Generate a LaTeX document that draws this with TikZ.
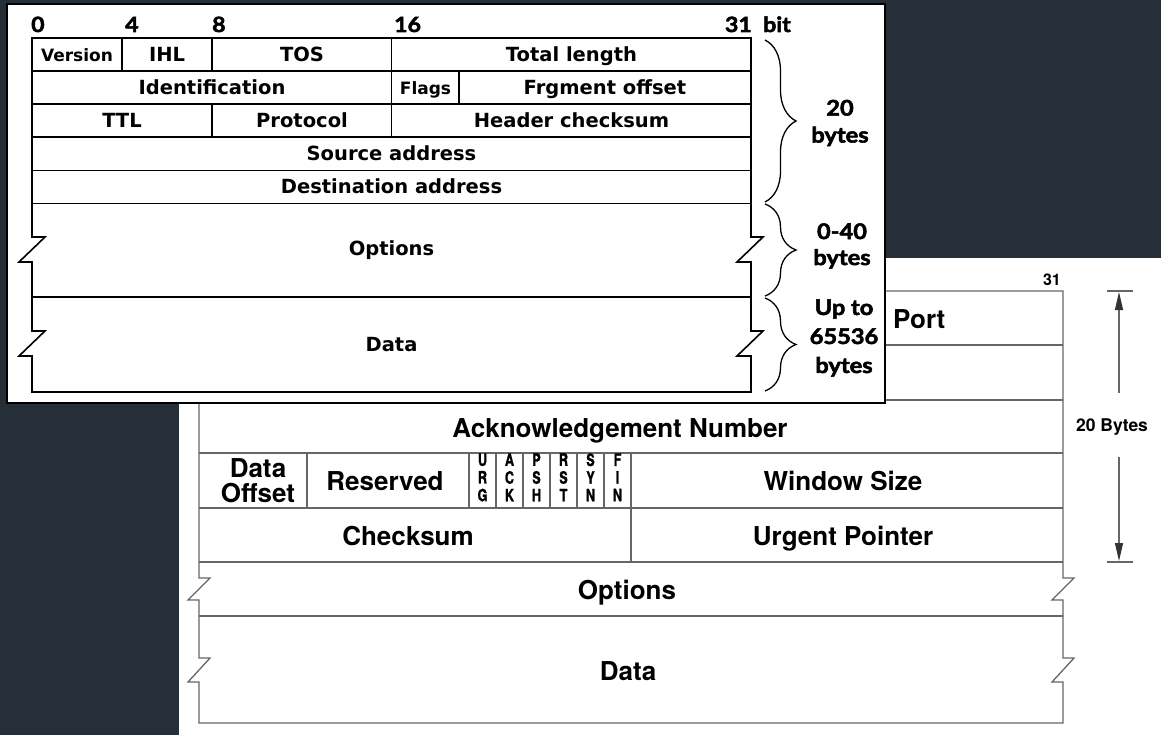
\documentclass[tikz,border=0pt]{standalone}
\usepackage{fontspec}
\usepackage{graphicx}
\usetikzlibrary{decorations.pathreplacing,arrows.meta}
\newfontfamily\ipfont{DejaVu Sans}
\newfontfamily\latofont{Lato}[FakeStretch=1.1,FakeBold=2.5]
\newfontfamily\tcpfont{TeX Gyre Heros}[FakeBold=1.5]
\newfontfamily\tcpmain{TeX Gyre Heros}
\definecolor{bgc}{HTML}{262E37}
\definecolor{tcpgray}{HTML}{666666}
\newcommand{\flagstk}[3]{\scalebox{0.74}[1]{\begin{tabular}{@{}c@{}}#1\\#2\\#3\end{tabular}}}
\tikzset{
  ipline/.style={draw=black, line width=1.6pt, line join=miter},
  tcpline/.style={draw=tcpgray, line width=1.3pt, line join=miter},
  iplabel/.style={font=\ipfont\bfseries\fontsize{19.5}{22}\selectfont, inner sep=0pt, anchor=base},
  ipsmall/.style={font=\ipfont\bfseries\fontsize{17}{20}\selectfont, inner sep=0pt, anchor=base},
  bitlabel/.style={font=\latofont\bfseries\fontsize{21}{24}\selectfont, inner sep=0pt},
  bracelabel/.style={font=\latofont\bfseries\fontsize{21.5}{27}\selectfont, inner sep=0pt, align=center},
  tcplabel/.style={font=\tcpmain\bfseries\fontsize{26}{24.7}\selectfont, inner sep=0pt, anchor=base},
  flaglabel/.style={font=\tcpfont\bfseries\fontsize{17}{17.5}\selectfont, inner sep=0pt},
  bracestyle/.style={draw=black, line width=1.3pt, decorate, decoration={brace, amplitude=31pt}},
  sizearrow/.style={draw=tcpgray, line width=1.2pt, -{Triangle[length=18pt,width=8pt,color=black!80,fill=black!80]}},
}
\begin{document}
\begin{tikzpicture}[x=1pt,y=-1pt]
\useasboundingbox (0,0) rectangle (1161,735);
\fill[bgc] (0,0) rectangle (1161,735);

% ---------------- TCP header (behind) ----------------
\fill[white] (179,258) rectangle (1161,735);
\draw[tcpline] (199,723) -- (199,682) -- (188,682) -- (210,658) -- (199,658)
  -- (199,600) -- (188,600) -- (210,578) -- (199,578) -- (199,291)
  -- (1063,291) -- (1063,578) -- (1074,578) -- (1052,600) -- (1063,600)
  -- (1063,658) -- (1074,658) -- (1052,682) -- (1063,682) -- (1063,723) -- cycle;
\foreach \yy in {345,400,453,508,562,616}
  \draw[tcpline] (199,\yy) -- (1063,\yy);
\foreach \xx in {307,469,496,523,550,577,604,631}
  \draw[tcpline] (\xx,453) -- (\xx,508);
\draw[tcpline] (631,508) -- (631,562);

\node[font=\tcpmain\bfseries\fontsize{16}{18}\selectfont, inner sep=0pt, anchor=base east] (t31) at (1061,285) {31};
\node[tcplabel, anchor=base west] (port) at (893,328) {Port};
\node[tcplabel] (ack) at (620,437) {Acknowledgement Number};
\node[tcplabel, align=center, anchor=center] (doff) at (258,481) {Data\\Offset};
\node[tcplabel] (resv) at (385,490.5) {Reserved};
\node[flaglabel] (furg) at (482.5,480) {\flagstk{U}{R}{G}};
\node[flaglabel] (fack) at (509.5,480) {\flagstk{A}{C}{K}};
\node[flaglabel] (fpsh) at (536.5,480) {\flagstk{P}{S}{H}};
\node[flaglabel] (frst) at (563.5,480) {\flagstk{R}{S}{T}};
\node[flaglabel] (fsyn) at (590.5,480) {\flagstk{S}{Y}{N}};
\node[flaglabel] (ffin) at (617.5,480) {\flagstk{F}{I}{N}};
\node[tcplabel] (win) at (843,490.5) {Window Size};
\node[tcplabel] (cks) at (408,545.5) {Checksum};
\node[tcplabel] (urg) at (843,545.5) {Urgent Pointer};
\node[tcplabel] (topt) at (627,599.5) {Options};
\node[tcplabel] (tdata) at (628,680) {Data};

% 20 Bytes size marker
\coordinate (tt1) at (1107,291); \coordinate (tt2) at (1133,291);
\coordinate (tb1) at (1107,562); \coordinate (tb2) at (1133,562);
\draw[tcpline, line width=1.2pt] (tt1) -- (tt2);
\draw[tcpline, line width=1.2pt] (tb1) -- (tb2);
\node[font=\tcpmain\bfseries\fontsize{17.5}{20}\selectfont, inner sep=0pt, anchor=base] (tbytes) at (1112,431.5) {20 Bytes};
\coordinate (au0) at (1119,393); \coordinate (au1) at (1119,292);
\coordinate (ad0) at (1119,457); \coordinate (ad1) at (1119,561);
\draw[sizearrow] (au0) -- (au1);
\draw[sizearrow] (ad0) -- (ad1);

% ---------------- IPv4 header (front) ----------------
\draw[fill=white, draw=black, line width=2pt] (7,4) rectangle (885,403);
\draw[ipline] (32,392) -- (32,356) -- (19,356) -- (45,331) -- (32,331)
  -- (32,262) -- (19,262) -- (45,237) -- (32,237) -- (32,38)
  -- (751,38) -- (751,237) -- (763,237) -- (737,262) -- (751,262)
  -- (751,331) -- (763,331) -- (737,356) -- (751,356) -- (751,392) -- cycle;
\foreach \yy in {71,104,137,170.5,203.5,297}
  \draw[ipline] (32,\yy) -- (751,\yy);
\draw[ipline] (122,38) -- (122,71);
\draw[ipline] (212,38) -- (212,71);
\draw[ipline] (391.6,38) -- (391.6,137);
\draw[ipline] (459,71) -- (459,104);
\draw[ipline] (212,104) -- (212,137);

% bit numbers
\node[bitlabel, anchor=base west] (b0) at (31,32) {0};
\node[bitlabel, anchor=base west] (b4) at (125,32) {4};
\node[bitlabel, anchor=base west] (b8) at (212,32) {8};
\node[bitlabel, anchor=base west] (b16) at (394,32) {16};
\node[bitlabel, anchor=base east] (b31) at (752,32) {31};
\node[bitlabel, anchor=base west] (bbit) at (763,32) {bit};

% fields
\node[ipsmall] (ver) at (77,61.5) {Version};
\node[iplabel] (ihl) at (167,61.5) {IHL};
\node[iplabel] (tos) at (302,61.5) {TOS};
\node[iplabel] (totlen) at (571.5,61.5) {Total length};
\node[iplabel] (ident) at (212,94.5) {Identification};
\node[ipsmall] (flags) at (425.5,94.5) {Flags};
\node[iplabel] (frag) at (605,94.5) {Frgment offset};
\node[iplabel] (ttl) at (122,127.5) {TTL};
\node[iplabel] (proto) at (302,127.5) {Protocol};
\node[iplabel] (hcs) at (571.5,127.5) {Header checksum};
\node[iplabel] (src) at (391.5,161) {Source address};
\node[iplabel] (dst) at (391.5,194) {Destination address};
\node[iplabel] (opt) at (391.5,256) {Options};
\node[iplabel] (data) at (391.5,351.5) {Data};

% braces
\coordinate (br1a) at (765,40);  \coordinate (br1b) at (765,202);
\coordinate (br2a) at (765,204); \coordinate (br2b) at (765,296);
\coordinate (br3a) at (765,298); \coordinate (br3b) at (765,391);
\draw[bracestyle] (br1a) -- (br1b);
\draw[bracestyle] (br2a) -- (br2b);
\draw[bracestyle] (br3a) -- (br3b);
\node[bracelabel] (l20) at (840,123) {20\\bytes};
\node[bracelabel, font=\latofont\bfseries\fontsize{21.5}{26}\selectfont] (l040) at (842,246) {0-40\\bytes};
\node[bracelabel, font=\latofont\bfseries\fontsize{21.5}{29}\selectfont] (lup) at (844,338) {Up to\\65536\\bytes};
\end{tikzpicture}
\end{document}
